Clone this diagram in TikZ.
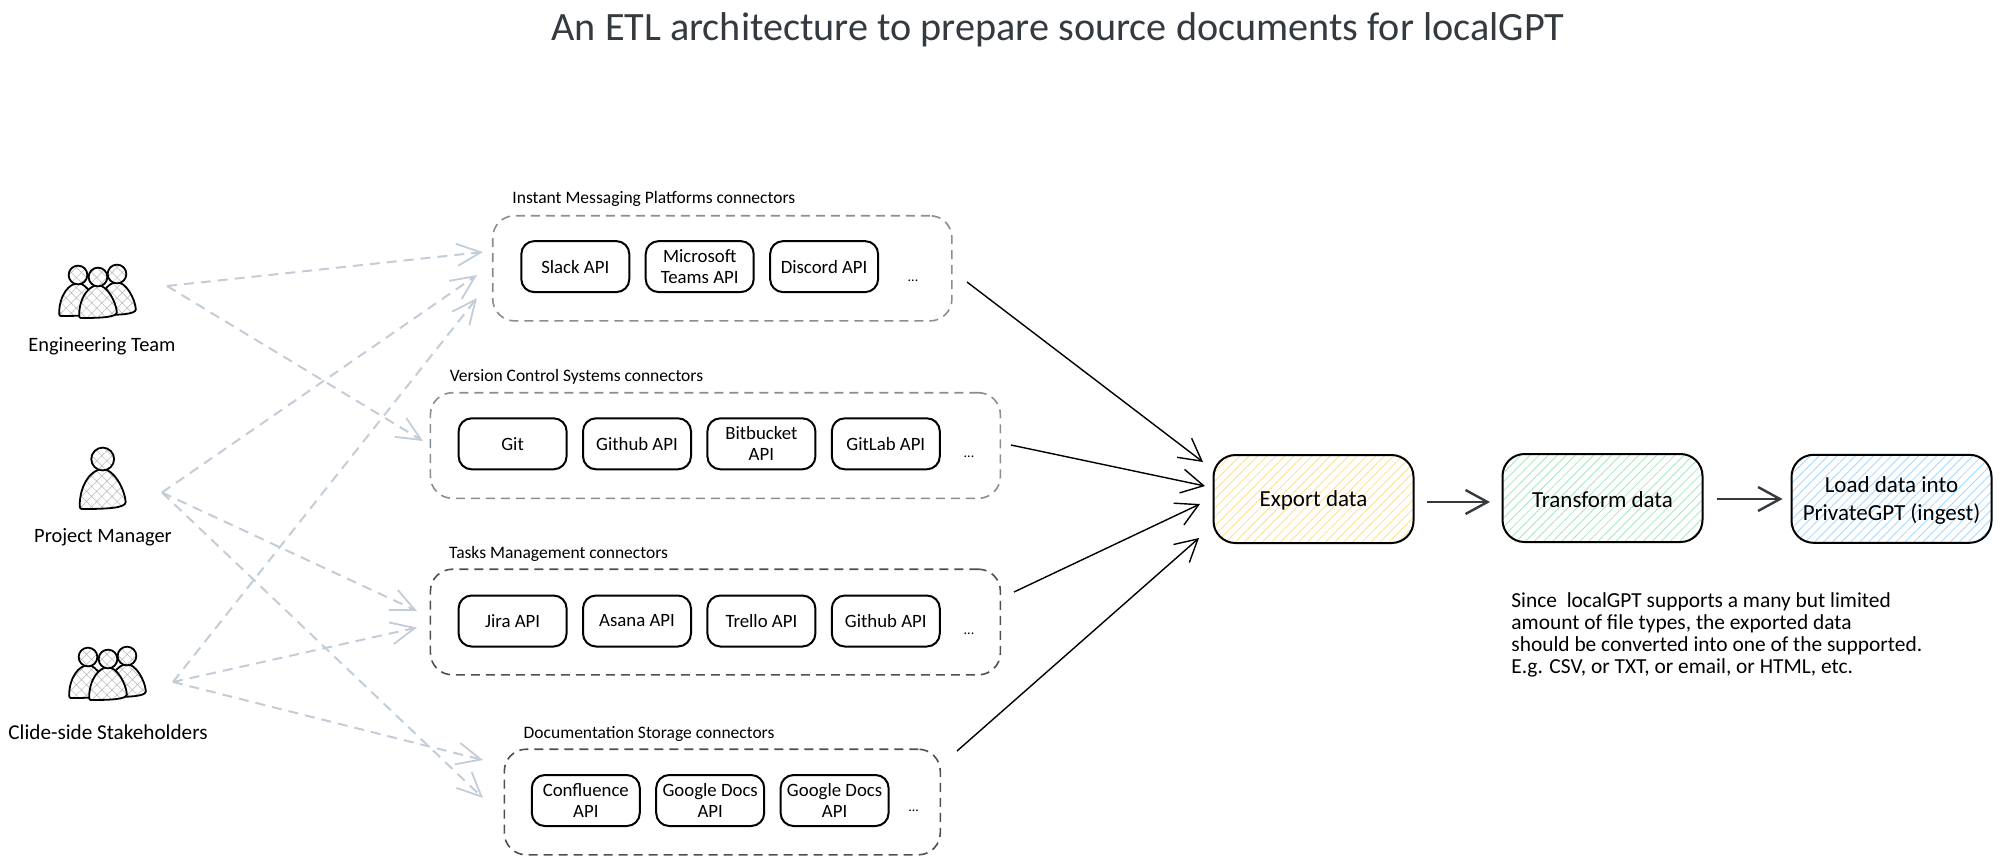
\documentclass[tikz,border=0pt]{standalone}
\usepackage{fontspec}
\setmainfont{Carlito}
\usetikzlibrary{arrows.meta,patterns.meta}
\definecolor{inkdark}{HTML}{343A40}
\definecolor{slategray}{HTML}{868E96}
\definecolor{darkgray}{HTML}{495057}
\definecolor{lightline}{HTML}{C3CDD7}
\definecolor{hatchyellow}{HTML}{FFE08A}
\definecolor{hatchgreen}{HTML}{A5E8BE}
\definecolor{hatchblue}{HTML}{A5D8FF}
\tikzstyle{apibox} = [rectangle,draw=black,line width=1pt,rounded corners=6.5pt,inner sep=0pt,align=center,minimum width=54pt,minimum height=25.5pt,font=\fontsize{9.4}{10.4}\selectfont,node distance=62.2pt]
\tikzstyle{groupbox} = [rectangle,dashed,dash pattern=on 4.5pt off 3pt,line width=.8pt,rounded corners=11pt,inner sep=0pt]
\tikzstyle{stagebox} = [rectangle,draw=black,line width=1pt,rounded corners=11pt,inner sep=0pt,minimum width=100pt,minimum height=44pt,pattern={Lines[angle=45,distance=3.2pt,line width=.42pt]}]
\tikzstyle{iconfill} = [draw=black,line width=.9pt,preaction={fill=white},pattern={Hatch[angle=45,distance=3.6pt,line width=.25pt]},pattern color=black!28]
\tikzset{
	pics/person/.style={code={
		\draw[iconfill] (-23,47) .. controls (-23,25) and (-11,10) .. (0,10) .. controls (11,10) and (22,30) .. (23,43) .. controls (23,49) and (5,50) .. (-21,50) .. controls (-22,50) and (-23,49) .. (-23,47) -- cycle;
		\draw[iconfill] (0,0) circle[radius=5.7pt];
	}}
}

\begin{document}
\begin{tikzpicture}
		[
		x=.5pt,y=-.5pt,
		grouplabel/.style={anchor=west,inner sep=0pt,font=\fontsize{8.75}{10}\selectfont},
		actorlabel/.style={inner sep=0pt,font=\fontsize{10.2}{12}\selectfont},
		stagetext/.style={inner sep=0pt,align=center,yshift=-.8pt,font=\fontsize{11.5}{14}\selectfont},
		dots/.style={inner sep=0pt,font=\fontsize{7}{8}\selectfont},
		feed/.style={lightline,line width=1pt,dashed,dash pattern=on 5pt off 3.5pt,-{Straight Barb[length=12pt,width=11pt,line width=.9pt]}},
		flow/.style={black,line width=.7pt,-{Straight Barb[length=11pt,width=12pt]}},
		stageflow/.style={inkdark,line width=1.2pt,-{Straight Barb[length=11pt,width=12pt]}}
		]
		\useasboundingbox (0,0) rectangle (2000,863);

		\node[inner sep=0pt,text=inkdark,font=\fontsize{20.1}{24}\selectfont](title) at (1058,30) {An ETL architecture to prepare source documents for localGPT};

		\foreach \hx/\hy/\sc in {-20/-2/.82,19/-3/.82,0/0/.82} {
			\pic[scale=\sc] at (98+\hx,277+\hy) {person};
			\pic[scale=\sc] at (108+\hx,659+\hy) {person};
		}
		\pic at (102.7,459) {person};
		\node[actorlabel](engineering) at (102,346) {Engineering Team};
		\node[actorlabel](manager) at (103,537) {Project Manager};
		\node[actorlabel,font=\fontsize{10.6}{12}\selectfont](stakeholders) at (108,732) {Clide-side Stakeholders};

		\node[groupbox,draw=slategray,minimum width=229.6pt,minimum height=52.6pt](imbox) at (722.3,268.3) {};
		\node[groupbox,draw=slategray,minimum width=285pt,minimum height=52.8pt](vcsbox) at (715.4,445.5) {};
		\node[groupbox,draw=darkgray,minimum width=285pt,minimum height=52.8pt](tasksbox) at (715.4,622) {};
		\node[groupbox,draw=darkgray,minimum width=218pt,minimum height=52.8pt](docsbox) at (722.3,802) {};

		\node[grouplabel](imlabel) at (512,199) {Instant Messaging Platforms connectors};
		\node[grouplabel](vcslabel) at (449.5,376.5) {Version Control Systems connectors};
		\node[grouplabel](taskslabel) at (448.7,553.5) {Tasks Management connectors};
		\node[grouplabel](docslabel) at (523.3,733.5) {Documentation Storage connectors};

		\node[apibox](slack) at (575.3,266.6) {Slack API};
		\node[apibox,right of=slack](teams) {Microsoft\\Teams API};
		\node[apibox,right of=teams](discord) {Discord API};
		\node[dots](imdots) at (913,281) {...};

		\node[apibox](git) at (512.6,443.8) {Git};
		\node[apibox,right of=git](github) {Github API};
		\node[apibox,right of=github](bitbucket) {Bitbucket\\API};
		\node[apibox,right of=bitbucket](gitlab) {GitLab API};
		\node[dots](vcsdots) at (969,457) {...};

		\node[apibox](jira) at (512.6,621) {Jira API};
		\node[apibox,right of=jira](asana) {Asana API};
		\node[apibox,right of=asana](trello) {Trello API};
		\node[apibox,right of=trello](githubtasks) {Github API};
		\node[dots](tasksdots) at (969,634) {...};

		\node[apibox](confluence) at (585.8,800.5) {Confluence\\API};
		\node[apibox,right of=confluence](docsone) {Google Docs\\API};
		\node[apibox,right of=docsone](docstwo) {Google Docs\\API};
		\node[dots](docsdots) at (913.6,811) {...};

		\node[stagebox,pattern color=hatchyellow](export) at (1313.5,499) {};
		\node[stagebox,pattern color=hatchgreen](transform) at (1602.5,498) {};
		\node[stagebox,pattern color=hatchblue](load) at (1891.5,498.8) {};
		\node[stagetext](exporttext) at (export) {Export data};
		\node[stagetext](transformtext) at (transform) {Transform data};
		\node[stagetext](loadtext) at (load) {Load data into\\PrivateGPT (ingest)};

		\node[anchor=north west,inner sep=0pt,align=left,font=\fontsize{10.7}{11}\selectfont](note) at (1511,592) {Since\ \ localGPT supports a many but limited\\amount of file types, the exported data\\should be converted into one of the supported.\\E.g. CSV, or TXT, or email, or HTML, etc.};

		\coordinate (teamout) at (167,286);
		\coordinate (managerout) at (162,492.5);
		\coordinate (stakeout) at (173,682);
		\coordinate (imin1) at (483,252);
		\coordinate (imin2) at (477,275);
		\coordinate (imin3) at (477,298);
		\coordinate (vcsin) at (423,441);
		\coordinate (tasksin1) at (417,611);
		\coordinate (tasksin2) at (417,627.5);
		\coordinate (docsin1) at (483,760);
		\coordinate (docsin2) at (483,798);

		\draw[feed] (teamout) -- (imin1);
		\draw[feed] (teamout) -- (vcsin);
		\draw[feed] (managerout) -- (imin2);
		\draw[feed] (managerout) -- (tasksin1);
		\draw[feed] (managerout) -- (docsin2);
		\draw[feed] (stakeout) -- (imin3);
		\draw[feed] (stakeout) -- (tasksin2);
		\draw[feed] (stakeout) -- (docsin1);

		\coordinate (imout) at (967,282);
		\coordinate (vcsout) at (1011,445);
		\coordinate (tasksout) at (1014,592);
		\coordinate (docsout) at (957,751);
		\coordinate (exportin1) at (1203,462);
		\coordinate (exportin2) at (1205,486);
		\coordinate (exportin3) at (1200,504);
		\coordinate (exportin4) at (1199,538);

		\draw[flow] (imout) -- (exportin1);
		\draw[flow] (vcsout) -- (exportin2);
		\draw[flow] (tasksout) -- (exportin3);
		\draw[flow] (docsout) -- (exportin4);

		\coordinate (exportout) at (1427,502);
		\coordinate (transformin) at (1490,502);
		\coordinate (transformout) at (1717,499);
		\coordinate (loadin) at (1782.5,499);
		\draw[stageflow] (exportout) -- (transformin);
		\draw[stageflow] (transformout) -- (loadin);
		\end{tikzpicture}
\end{document}
